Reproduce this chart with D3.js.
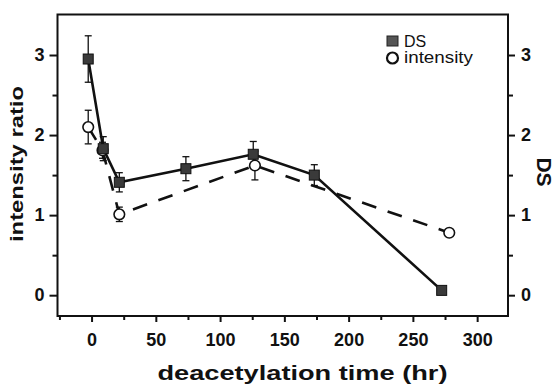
<!DOCTYPE html>
<html>
<head>
<meta charset="utf-8">
<script src="https://cdn.jsdelivr.net/npm/d3@7"></script>
<style>
  body { margin: 0; background: #fff; }
  svg { display: block; }
  text { font-family: "Liberation Sans", Arial, Helvetica, sans-serif; fill: #111; }
</style>
</head>
<body>
<div id="chart"></div>
<script>
// deacetylation time (hr)
const dsTime = [-2.6, 9.1, 21.6, 73.4, 125.8, 173.3, 272.4];
const dsValue = [2.95, 1.83, 1.41, 1.58, 1.76, 1.50, 0.06];
const dsErr = [0.29, 0.15, 0.12, 0.15, 0.16, 0.13, 0.05];

const intTime = [-2.6, 8.5, 21.6, 127.1, 278.3];
const intValue = [2.10, 1.81, 1.01, 1.62, 0.78];
const intErr = [0.21, 0.10, 0.09, 0.18, 0.04];

const xTicks = [0, 50, 100, 150, 200, 250, 300];
const yTicks = [0, 1, 2, 3];

const W = 559, H = 390;
const m = {top: 14.5, right: 51, bottom: 74, left: 57.5};

const svg = d3.select('#chart').append('svg')
  .attr('width', W)
  .attr('height', H);

const x = d3.scaleLinear().domain([-26.5, 324]).range([m.left, W - m.right]);
const y = d3.scaleLinear().domain([-0.26, 3.506]).range([H - m.bottom, m.top]);
// DS shares the same scale on the right
const y2 = y.copy();

const ds = dsTime.map((t, i) => ({t: t, v: dsValue[i], e: dsErr[i]}));
const inten = intTime.map((t, i) => ({t: t, v: intValue[i], e: intErr[i]}));

// frame
svg.append('rect')
  .attr('x', m.left).attr('y', m.top)
  .attr('width', W - m.right - m.left)
  .attr('height', H - m.bottom - m.top)
  .attr('fill', 'none').attr('stroke', '#111').attr('stroke-width', 2);

// axes
const fontTick = '18px';
svg.append('g')
  .attr('transform', 'translate(0,' + (H - m.bottom) + ')')
  .call(d3.axisBottom(x).tickValues(xTicks).tickSize(6).tickPadding(11).tickFormat(d3.format('d')));
svg.append('g')
  .attr('transform', 'translate(0,' + (H - m.bottom) + ')')
  .call(d3.axisBottom(x).tickValues(d3.range(-25, 325, 25).filter(d => d % 50 !== 0)).tickSize(4).tickFormat(''));

svg.append('g')
  .attr('transform', 'translate(' + m.left + ',0)')
  .call(d3.axisLeft(y).tickValues(yTicks).tickSize(8).tickPadding(5).tickFormat(d3.format('d')));
svg.append('g')
  .attr('transform', 'translate(' + m.left + ',0)')
  .call(d3.axisLeft(y).tickValues([0.5, 1.5, 2.5]).tickSize(5).tickFormat(''));

svg.append('g')
  .attr('transform', 'translate(' + (W - m.right) + ',0)')
  .call(d3.axisRight(y2).tickValues(yTicks).tickSize(7).tickPadding(6).tickFormat(d3.format('d')));
svg.append('g')
  .attr('transform', 'translate(' + (W - m.right) + ',0)')
  .call(d3.axisRight(y2).tickValues([0.5, 1.5, 2.5]).tickSize(5).tickFormat(''));

svg.selectAll('.domain').remove();
svg.selectAll('.tick line').attr('stroke', '#111').attr('stroke-width', 2);
svg.selectAll('.tick text')
  .style('font-size', fontTick)
  .style('font-weight', 'bold')
  .attr('fill', '#111');

// axis titles
svg.append('text')
  .attr('x', 302.5).attr('y', 380)
  .attr('text-anchor', 'middle')
  .attr('textLength', 290).attr('lengthAdjust', 'spacingAndGlyphs')
  .style('font-size', '20px').style('font-weight', 'bold')
  .text('deacetylation time (hr)');

svg.append('text')
  .attr('transform', 'translate(23,164) rotate(-90)')
  .attr('text-anchor', 'middle')
  .attr('textLength', 156).attr('lengthAdjust', 'spacingAndGlyphs')
  .style('font-size', '18px').style('font-weight', 'bold')
  .text('intensity ratio');

svg.append('text')
  .attr('transform', 'translate(537,172) rotate(90)')
  .attr('text-anchor', 'middle')
  .style('font-size', '21px').style('font-weight', 'bold')
  .text('DS');

// lines
const line = d3.line().x(d => x(d.t)).y(d => y(d.v));
svg.append('path')
  .datum(inten)
  .attr('d', line)
  .attr('fill', 'none').attr('stroke', '#111')
  .attr('stroke-width', 2.6).attr('stroke-dasharray', '15,12');
svg.append('path')
  .datum(ds)
  .attr('d', d3.line().x(d => x(d.t)).y(d => y2(d.v)))
  .attr('fill', 'none').attr('stroke', '#111')
  .attr('stroke-width', 2.6);

// error bars
function errorBars(data, sc) {
  const g = svg.append('g').attr('stroke', '#111').attr('stroke-width', 1.3);
  data.forEach(d => {
    const cx = x(d.t);
    g.append('line').attr('x1', cx).attr('x2', cx).attr('y1', sc(d.v + d.e)).attr('y2', sc(d.v - d.e));
    g.append('line').attr('x1', cx - 3.5).attr('x2', cx + 3.5).attr('y1', sc(d.v + d.e)).attr('y2', sc(d.v + d.e));
    g.append('line').attr('x1', cx - 3.5).attr('x2', cx + 3.5).attr('y1', sc(d.v - d.e)).attr('y2', sc(d.v - d.e));
  });
}
errorBars(inten, y);
errorBars(ds, y2);

// markers
svg.append('g').selectAll('circle')
  .data(inten).enter().append('circle')
  .attr('cx', d => x(d.t)).attr('cy', d => y(d.v))
  .attr('r', 5.3)
  .attr('fill', '#fff').attr('stroke', '#111').attr('stroke-width', 1.6);

const sq = 10;
svg.append('g').selectAll('rect')
  .data(ds).enter().append('rect')
  .attr('x', d => x(d.t) - sq / 2).attr('y', d => y2(d.v) - sq / 2)
  .attr('width', sq).attr('height', sq)
  .attr('fill', '#3a3a3a').attr('stroke', '#111').attr('stroke-width', 1);

// legend
const lg = svg.append('g');
lg.append('rect')
  .attr('x', 387).attr('y', 36).attr('width', 11).attr('height', 10)
  .attr('fill', '#555').attr('stroke', '#222').attr('stroke-width', 1);
lg.append('text')
  .attr('x', 404).attr('y', 47)
  .style('font-size', '16px')
  .text('DS');
lg.append('circle')
  .attr('cx', 392.5).attr('cy', 58).attr('r', 5.5)
  .attr('fill', '#fff').attr('stroke', '#111').attr('stroke-width', 2.2);
lg.append('text')
  .attr('x', 404).attr('y', 63)
  .attr('textLength', 69).attr('lengthAdjust', 'spacingAndGlyphs')
  .style('font-size', '16px')
  .text('intensity');
</script>
</body>
</html>
